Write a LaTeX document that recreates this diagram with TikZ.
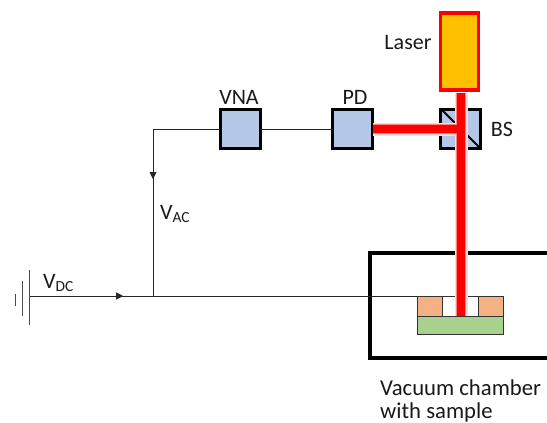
\documentclass[tikz,border=0pt]{standalone}
\usepackage{fontspec}
\setmainfont{Carlito}
\usetikzlibrary{arrows.meta,decorations.markings,calc}
\definecolor{boxblue}{RGB}{180,199,231}
\definecolor{laserorange}{RGB}{255,192,0}
\definecolor{padorange}{RGB}{244,177,131}
\definecolor{subgreen}{RGB}{169,209,142}
\tikzset{
  x=1pt,y=-1pt,
  instr/.style={draw=black,line width=3pt,fill=boxblue,minimum width=40pt,minimum height=39pt,inner sep=0pt,outer sep=0pt},
  lab/.style={font=\fontsize{22}{26}\selectfont,inner sep=0pt,text=black!90},
  biglab/.style={lab,font=\fontsize{22.7}{26}\selectfont,anchor=west},
  wire/.style={line width=0.9pt,draw=black!85},
  pad/.style={draw=black!80,line width=0.8pt,fill=padorange,minimum width=25pt,minimum height=20pt,inner sep=0pt,outer sep=0pt},
  midarrow/.style={postaction={decorate},decoration={markings,mark=at position #1 with {\arrow{Triangle[length=7pt,width=7pt]}}}},
  beamA/.style={draw=red!15,line width=13pt},
  beamB/.style={draw=red!50,line width=10.5pt},
  beamC/.style={draw=red,line width=8pt}
}
\begin{document}
\begin{tikzpicture}
\useasboundingbox (0,0) rectangle (547,423);
% chamber
\coordinate (chTR) at (547,253);
\coordinate (chTL) at (370,253);
\coordinate (chBL) at (370,358);
\coordinate (chBR) at (547,358);
\draw[line width=4pt,miter limit=10] (chTR) -- (chTL) -- (chBL) -- (chBR);
% sample
\node[draw=black!80,line width=0.8pt,fill=subgreen,minimum width=86pt,minimum height=18pt,inner sep=0pt,outer sep=0pt] (substrate) at (460,325) {};
\node[pad] (padL) at (429.5,306) {};
\node[pad] (padR) at (490.5,306) {};
\draw[draw=black!80,line width=0.8pt] (padL.north east) -- (padR.north west);
% instruments
\node[instr] (vna) at (240,129) {};
\node[instr] (pd) at (352.5,129) {};
\node[instr] (bs) at (460.5,129) {};
\draw[line width=2pt] ($(bs.north west)+(1.5,0.5)$) -- ($(bs.south east)+(-0.5,-0.5)$);
% laser
\node[draw=red,line width=3.5pt,fill=laserorange,minimum width=38pt,minimum height=77pt,inner sep=0pt,outer sep=0pt] (laser) at (459.5,51.5) {};
% beam
\coordinate (beamTurn) at (461,129);
\coordinate (beamEnd) at (461,316);
\coordinate (beamStart) at (461,92.5);
\foreach \s in {beamA,beamB,beamC}{
  \draw[\s] (pd.east) -- (beamTurn);
  \draw[\s] (beamStart) -- (beamEnd);
}
% wires
\coordinate (junction) at (153,296);
\coordinate (corner) at (153,129);
\coordinate (gndA) at (29,296);
\draw[wire] (vna.east) -- (pd.west);
\draw[wire,midarrow=0.5] (vna.west) -- (corner) -- (junction);
\draw[wire,midarrow=0.76] (gndA) -- (junction);
\draw[wire] (junction) -- (padL.north west);
% ground
\draw[line width=1pt,draw=black!70] (29,270) -- (29,325);
\draw[line width=1pt,draw=black!70] (22,281) -- (22,316);
\draw[line width=1pt,draw=black!70] (15.5,294) -- (15.5,306);
% labels
\node[lab] (tlaser) at (408,43) {Laser};
\node[lab] (tbs) at (502,129) {BS};
\node[lab] (tvna) at (239,97) {VNA};
\node[lab] (tpd) at (355,97) {PD};
\node[lab,anchor=west] (tvac) at (160,214) {V\textsubscript{AC}};
\node[lab,anchor=west] (tvdc) at (43,283) {V\textsubscript{DC}};
\node[biglab] (tch1) at (380,388) {Vacuum chamber};
\node[biglab] (tch2) at (380,412.5) {with sample};
\end{tikzpicture}
\end{document}
